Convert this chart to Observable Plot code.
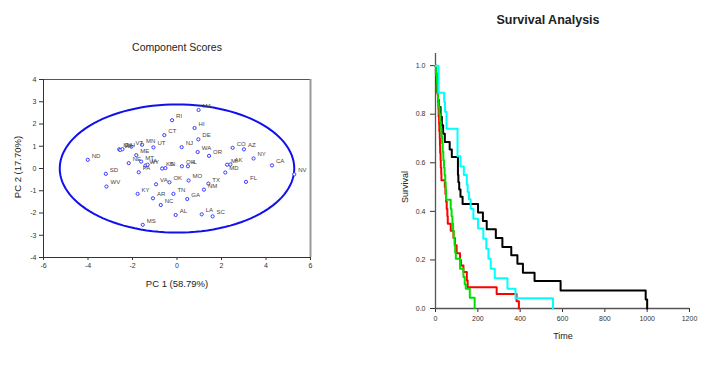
<!DOCTYPE html>
<html>
<head>
<meta charset="utf-8">
<script src="https://cdn.jsdelivr.net/npm/d3@7"></script>
<script src="https://cdn.jsdelivr.net/npm/@observablehq/plot@0.6"></script>
<style>
  html, body { margin: 0; padding: 0; background: #fff; }
  #root { position: relative; width: 720px; height: 366px; overflow: hidden; font-family: "Liberation Sans", Arial, sans-serif; }
  .abs { position: absolute; }
  .lbl { position: absolute; white-space: nowrap; color: #222; transform: translate(-50%, -50%); }
</style>
</head>
<body>
<div id="root"></div>
<script>
// ---------- PCA component scores ----------
const states = ["MA","RI","HI","CT","DE","NJ","WA","OR","CO","AZ","NY","CA","NV","MI","AK","MD","FL","TX","NM","MO","GA","LA","SC","AL","TN","OK","VA","NC","AR","KY","MS","WV","SD","ND","OH","IL","KS","IN","NE","MT","ME","VT","MN","UT","ID","WI","NH","WY","IA","PA"];
const pc1 = [0.97,-0.22,0.79,-0.57,0.96,0.21,0.93,1.44,2.5,3.01,3.44,4.27,5.27,2.25,2.4,2.17,3.1,1.41,1.21,0.52,0.46,1.11,1.6,-0.06,-0.16,-0.34,-0.94,-0.73,-1.08,-1.77,-1.54,-3.17,-3.2,-4.01,0.22,0.49,-0.67,-0.52,-2.17,-1.61,-1.83,-2.05,-1.57,-1.06,-2.6,-2.55,-2.45,-1.42,-1.32,-1.72];
const pc2 = [2.63,2.17,1.82,1.5,1.31,0.96,0.74,0.57,0.93,0.86,0.45,0.14,-0.26,0.17,0.18,-0.18,-0.6,-0.68,-0.95,-0.54,-1.37,-2.06,-2.15,-2.09,-1.14,-0.62,-0.71,-1.64,-1.34,-1.14,-2.53,-0.81,-0.24,0.39,0.1,0.1,0.0,0.02,0.24,0.31,0.6,0.98,1.07,0.95,0.86,0.83,0.87,0.13,0.17,-0.17];
const pcaXTicks = [-6,-4,-2,0,2,4,6];
const pcaYTicks = [-4,-3,-2,-1,0,1,2,3,4];
const ellipseRadiusX = 5.27;
const ellipseRadiusY = 2.88;

// ---------- Survival (Kaplan–Meier) ----------
const blackSteps = [[0,1],[2,0.96],[5,0.93],[8,0.89],[12,0.86],[16,0.83],[24,0.79],[30,0.755],[36,0.72],[44,0.686],[67,0.655],[77,0.624],[106,0.55],[108,0.52],[112,0.49],[118,0.46],[128,0.43],[201,0.395],[224,0.36],[242,0.326],[285,0.29],[316,0.253],[358,0.219],[387,0.184],[413,0.147],[468,0.113],[591,0.074],[993,0.037],[1000,0]];
const cyanSteps = [[0,1],[15,0.888],[41,0.85],[45,0.81],[52,0.74],[104,0.627],[118,0.585],[134,0.55],[148,0.51],[152,0.48],[158,0.45],[166,0.411],[179,0.37],[201,0.329],[226,0.287],[240,0.246],[250,0.205],[261,0.164],[280,0.125],[340,0.081],[378,0.042],[555,0]];
const redSteps = [[0,1],[3,0.97],[6,0.94],[8,0.91],[10,0.88],[12,0.85],[14,0.82],[15,0.79],[17,0.76],[18,0.73],[20,0.7],[21,0.67],[22,0.64],[24,0.61],[25,0.58],[27,0.555],[28,0.528],[44,0.5],[47,0.47],[50,0.44],[53,0.41],[56,0.38],[58,0.349],[72,0.32],[85,0.29],[92,0.26],[100,0.228],[116,0.2],[120,0.177],[132,0.15],[148,0.115],[152,0.088],[289,0.06],[383,0.03],[394,0]];
const greenSteps = [[0,1],[3,0.96],[6,0.93],[9,0.89],[12,0.86],[15,0.83],[19,0.8],[22,0.77],[25,0.74],[28,0.71],[31,0.68],[34,0.645],[37,0.61],[40,0.58],[43,0.55],[46,0.52],[48,0.49],[50,0.448],[72,0.41],[76,0.38],[80,0.35],[83,0.32],[86,0.29],[90,0.26],[93,0.23],[96,0.205],[116,0.164],[132,0.13],[138,0.1],[143,0.081],[162,0.044],[185,0]];
const survXTicks = [0,200,400,600,800,1000,1200];
const survYTicks = [0,0.2,0.4,0.6,0.8,1.0];

const root = document.getElementById("root");

// ---- Left chart ----
const pcaData = states.map((s, i) => ({state: s, x: pc1[i], y: pc2[i]}));
const ellipse = d3.range(0, 361, 3).map(a => ({
  x: ellipseRadiusX * Math.cos(a * Math.PI / 180),
  y: ellipseRadiusY * Math.sin(a * Math.PI / 180)
}));

const left = Plot.plot({
  width: 360, height: 366,
  marginLeft: 43, marginRight: 50, marginTop: 79, marginBottom: 109,
  x: {domain: [-6, 6], ticks: pcaXTicks, tickFormat: d => String(d), tickSize: 3, tickPadding: 3, label: null},
  y: {domain: [-4, 4], ticks: pcaYTicks, tickFormat: d => String(d), tickSize: 4, tickPadding: 3, label: null},
  style: {fontFamily: "'Liberation Sans', Arial, sans-serif", fontSize: "7px", color: "#333", background: "transparent", overflow: "visible"},
  marks: [
    Plot.ruleY([4], {stroke: "#555", strokeWidth: 1}),
    Plot.ruleX([6], {stroke: "#999", strokeWidth: 2}),
    Plot.ruleX([-6], {stroke: "#333", strokeWidth: 1}),
    Plot.ruleY([-4], {stroke: "#333", strokeWidth: 1}),
    Plot.line(ellipse, {x: "x", y: "y", stroke: "#1010ee", strokeWidth: 2}),
    Plot.dot(pcaData, {x: "x", y: "y", r: 1.6, stroke: "#3a3aff", strokeWidth: 1, fill: "white"}),
    Plot.text(pcaData, {x: "x", y: "y", text: "state", dx: 4, dy: -4, textAnchor: "start", fontSize: 6, fill: "#444"})
  ]
});
left.classList.add("abs");
left.style.left = "0px";
left.style.top = "0px";
root.appendChild(left);

// ---- Right chart ----
const toRows = (steps, group) => steps.map(([t, s]) => ({t, s, group}));
const series = [
  {rows: toRows(blackSteps, "a"), color: "#000000"},
  {rows: toRows(redSteps, "c"), color: "#ff0000"},
  {rows: toRows(greenSteps, "d"), color: "#00e000"},
  {rows: toRows(cyanSteps, "b"), color: "#00ffff"}
];

const right = Plot.plot({
  width: 350, height: 366,
  marginLeft: 65, marginRight: 31, marginTop: 53, marginBottom: 58,
  x: {domain: [0, 1200], ticks: survXTicks, tickFormat: d => String(d), tickSize: 4, tickPadding: 4, label: null},
  y: {domain: [0, 1.05], ticks: survYTicks, tickFormat: d3.format(".1f"), tickSize: 5, tickPadding: 5, label: null},
  style: {fontFamily: "'Liberation Sans', Arial, sans-serif", fontSize: "7px", color: "#333", background: "transparent", overflow: "visible"},
  marks: [
    Plot.ruleX([0], {stroke: "#555", strokeWidth: 1.3}),
    Plot.ruleY([0], {stroke: "#555", strokeWidth: 1.3}),
    ...series.map(sr => Plot.line(sr.rows, {x: "t", y: "s", curve: "step-after", stroke: sr.color, strokeWidth: 2}))
  ]
});
right.classList.add("abs");
right.style.left = "370px";
right.style.top = "0px";
root.appendChild(right);

// ---- Text labels ----
function addText(txt, x, y, opts = {}) {
  const d = document.createElement("div");
  d.className = "lbl";
  d.textContent = txt;
  d.style.left = x + "px";
  d.style.top = y + "px";
  d.style.fontSize = (opts.size || 10) + "px";
  if (opts.bold) d.style.fontWeight = "bold";
  if (opts.rotate) d.style.transform = "translate(-50%, -50%) rotate(-90deg)";
  root.appendChild(d);
}
addText("Component Scores", 177, 47, {size: 10.5});
addText("PC 1 (58.79%)", 177, 283, {size: 9.5});
addText("PC 2 (17.70%)", 17, 167, {size: 9.5, rotate: true});
addText("Survival Analysis", 548, 20, {size: 12.5, bold: true});
addText("Time", 563, 336, {size: 9});
addText("Survival", 405, 187, {size: 9, rotate: true});
</script>
</body>
</html>
